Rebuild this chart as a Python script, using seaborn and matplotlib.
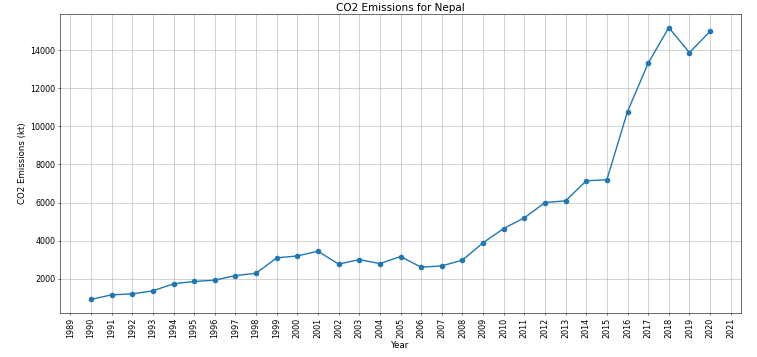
import pandas as pd
import seaborn as sns
import matplotlib
matplotlib.use("Agg")
import matplotlib.pyplot as plt

# data (kt)
years = list(range(1990, 2021))
emissions = [920, 1160, 1210, 1370, 1740, 1860, 1930, 2170, 2290, 3100,
             3200, 3450, 2770, 3010, 2800, 3170, 2610, 2680, 2980, 3890,
             4640, 5200, 6000, 6090, 7140, 7200, 10770, 13310, 15180, 13870,
             14980]
tick_years = list(range(1989, 2022))

data = pd.DataFrame({"Year": years, "CO2": emissions})

plt.rcParams["font.size"] = 11.5

fig = plt.figure(figsize=(757 / 50, 357 / 50), dpi=50)
ax = fig.add_axes([60 / 757, 1 - 313 / 357, 681 / 757, 299 / 357])
sns.lineplot(data=data, x="Year", y="CO2", marker="o", markeredgewidth=0,
             markersize=8, linewidth=2, ax=ax)
ax.set_xticks(tick_years)
ax.tick_params(axis="x", rotation=90)
ax.set_title("CO2 Emissions for Nepal", fontsize=15, pad=4)
ax.set_xlabel("Year", fontsize=12.5)
ax.set_ylabel("CO2 Emissions (kt)", fontsize=12.5)
ax.grid(True)

fig.savefig("out.png", dpi=50)
